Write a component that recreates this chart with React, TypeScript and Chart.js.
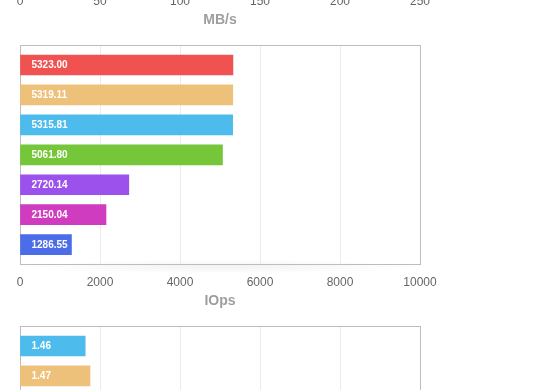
import React, { useEffect, useRef } from "react";
import { Chart, registerables } from "chart.js";

Chart.register(...registerables);

// ---- data ----
const rowIndex = [0, 1, 2, 3, 4, 5, 6];
const barColors = ["#ef5250", "#eec17b", "#4dbbec", "#76c63a", "#9c50ec", "#cf3cbf", "#4b6de9"];

const mbTicksMax = 250;
const mbTicksStep = 50;
const mbValues: number[] = [];

const iopsValues = [5323.0, 5319.11, 5315.81, 5061.8, 2720.14, 2150.04, 1286.55];
const iopsLabels = ["5323.00", "5319.11", "5315.81", "5061.80", "2720.14", "2150.04", "1286.55"];
const iopsMax = 10000;
const iopsStep = 2000;

const latValues = [1.63, 1.75];
const latLabels = ["1.46", "1.47"];
const latColors = ["#4dbbec", "#eec17b"];
const latMax = 10;
const latStep = 2;

const FONT = "'Liberation Sans', Arial, Helvetica, sans-serif";
const CANVAS_W = 560;
const CANVAS_H = 281;

type Props = {
  values: number[];
  labels: string[];
  colors: string[];
  max: number;
  step: number;
  title: string;
  top: number;
};

const boxPlugin = {
  id: "boxPlugin",
  beforeDatasetsDraw(chart: any) {
    const { ctx, chartArea } = chart;
    ctx.save();
    ctx.strokeStyle = "#bdbdbd";
    ctx.lineWidth = 1;
    ctx.strokeRect(
      Math.round(chartArea.left) + 0.5,
      Math.round(chartArea.top) + 0.5,
      Math.round(chartArea.right - chartArea.left),
      Math.round(chartArea.bottom - chartArea.top)
    );
    ctx.restore();
  },
  beforeDraw(chart: any) {
    const { ctx, chartArea } = chart;
    const cx = (chartArea.left + chartArea.right) / 2;
    const w = (chartArea.right - chartArea.left) / 2;
    ctx.save();
    ctx.translate(cx, chartArea.bottom + 3);
    ctx.scale(1, 0.035);
    const g = ctx.createRadialGradient(0, 0, 0, 0, 0, w);
    g.addColorStop(0, "rgba(0,0,0,0.05)");
    g.addColorStop(1, "rgba(0,0,0,0)");
    ctx.fillStyle = g;
    ctx.beginPath();
    ctx.arc(0, 0, w, 0, Math.PI * 2);
    ctx.fill();
    ctx.restore();
  },
  afterDraw(chart: any) {
    const { ctx, chartArea } = chart;
    const title = (chart.options.plugins as any).boxPlugin?.title || "";
    ctx.save();
    ctx.fillStyle = "#9e9e9e";
    ctx.font = `bold 14px ${FONT}`;
    ctx.textAlign = "center";
    ctx.textBaseline = "alphabetic";
    ctx.fillText(title, (chartArea.left + chartArea.right) / 2, chartArea.bottom + 41.5);
    ctx.restore();
  },
};

const labelPlugin = {
  id: "labelPlugin",
  afterDatasetsDraw(chart: any) {
    const { ctx } = chart;
    const meta = chart.getDatasetMeta(0);
    const texts: string[] = (chart.options.plugins as any).labelPlugin?.texts || [];
    ctx.save();
    ctx.fillStyle = "#ffffff";
    ctx.font = `bold 10px ${FONT}`;
    ctx.textBaseline = "middle";
    ctx.textAlign = "left";
    meta.data.forEach((el: any, i: number) => {
      if (texts[i] == null) return;
      ctx.fillText(texts[i], el.base + 11, el.y + 0.5);
    });
    ctx.restore();
  },
};

function BarPanel({ values, labels, colors, max, step, title, top }: Props) {
  const ref = useRef<HTMLCanvasElement>(null);
  useEffect(() => {
    if (!ref.current) return;
    const points = values.map((v, i) => ({ x: v, y: rowIndex[i] }));
    const chart = new Chart(ref.current, {
      type: "bar",
      data: {
        datasets: [
          {
            data: points as any,
            backgroundColor: colors.slice(0, values.length),
            borderWidth: 0,
            barThickness: 20,
          },
        ],
      },
      options: {
        indexAxis: "y",
        responsive: false,
        animation: false,
        devicePixelRatio: 1,
        layout: { padding: { top: 10, left: 20, right: 140, bottom: 14 } },
        scales: {
          x: {
            type: "linear",
            min: 0,
            max,
            ticks: {
              stepSize: step,
              padding: 12,
              color: "#666",
              font: { family: FONT, size: 12 },
              callback: (v: any) => String(v),
            },
            grid: { color: "#ebebeb", drawTicks: false },
            border: { display: false },
          },
          y: {
            type: "linear",
            reverse: true,
            offset: false,
            min: -0.667,
            max: 6.633,
            display: false,
            grid: { offset: false },
          },
        },
        plugins: {
          legend: { display: false },
          tooltip: { enabled: false },
          labelPlugin: { texts: labels },
          boxPlugin: { title },
        } as any,
      },
      plugins: [boxPlugin, labelPlugin],
    });
    return () => chart.destroy();
  }, []);
  return (
    <canvas
      ref={ref}
      width={CANVAS_W}
      height={CANVAS_H}
      style={{ position: "absolute", left: 0, top, width: CANVAS_W, height: CANVAS_H, display: "block" }}
    />
  );
}

export default function App() {
  return (
    <div
      style={{
        position: "fixed",
        left: 0,
        top: 0,
        width: 560,
        height: 390,
        overflow: "hidden",
        background: "#ffffff",
      }}
    >
      <BarPanel values={mbValues} labels={[]} colors={barColors} max={mbTicksMax} step={mbTicksStep} title="MB/s" top={35 - CANVAS_H} />
      <BarPanel values={iopsValues} labels={iopsLabels} colors={barColors} max={iopsMax} step={iopsStep} title="IOps" top={35} />
      <BarPanel values={latValues} labels={latLabels} colors={latColors} max={latMax} step={latStep} title="ms" top={35 + CANVAS_H} />
    </div>
  );
}
